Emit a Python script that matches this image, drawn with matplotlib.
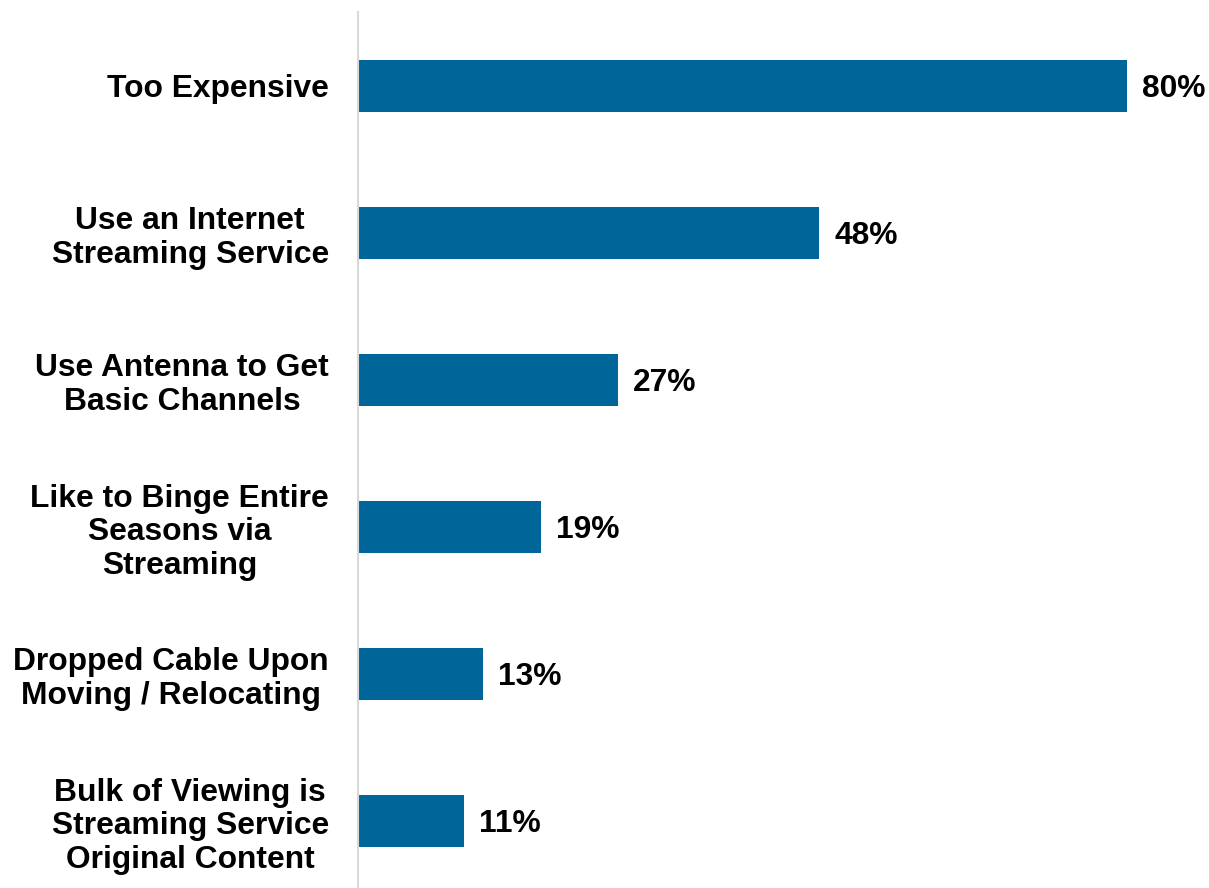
import matplotlib
matplotlib.use("Agg")
import matplotlib.pyplot as plt

categories = [
    "Too Expensive",
    "Use an Internet\nStreaming Service",
    "Use Antenna to Get\nBasic Channels",
    "Like to Binge Entire\nSeasons via\nStreaming",
    "Dropped Cable Upon\nMoving / Relocating",
    "Bulk of Viewing is\nStreaming Service\nOriginal Content",
]
values = [80, 48, 27, 19, 13, 11]
value_labels = ["80%", "48%", "27%", "19%", "13%", "11%"]

plt.rcParams['font.family'] = ['Liberation Sans', 'DejaVu Sans']

W, H = 1209, 888
fig = plt.figure(figsize=(W / 100, H / 100), dpi=100)
left = 358 / W
right = 1209 / W
ax = fig.add_axes([left, 0, right - left, 876 / H])

pos = list(range(len(categories)))
ax.barh(pos, values, height=0.354, color="#006699")
ax.set_xlim(0, (1209 - 358) / ((1127 - 358) / 80))
ax.set_ylim(5.456, -0.503)

for p, v, lab in zip(pos, values, value_labels):
    ax.annotate(lab, (v, p), xytext=(15, 0), textcoords="offset pixels",
                ha="left", va="center_baseline", fontsize=22.9, fontweight="bold")

ax.set_yticks(pos)
ax.set_yticklabels(categories, fontsize=22.9, fontweight="bold",
                   linespacing=1.17, multialignment="center")
ax.tick_params(axis="y", length=0, pad=21)
ax.set_xticks([])
for s in ["top", "right", "bottom"]:
    ax.spines[s].set_visible(False)
ax.spines["left"].set_color("#D9D9D9")
ax.spines["left"].set_linewidth(1.5)

fig.savefig("out.png", dpi=100)
